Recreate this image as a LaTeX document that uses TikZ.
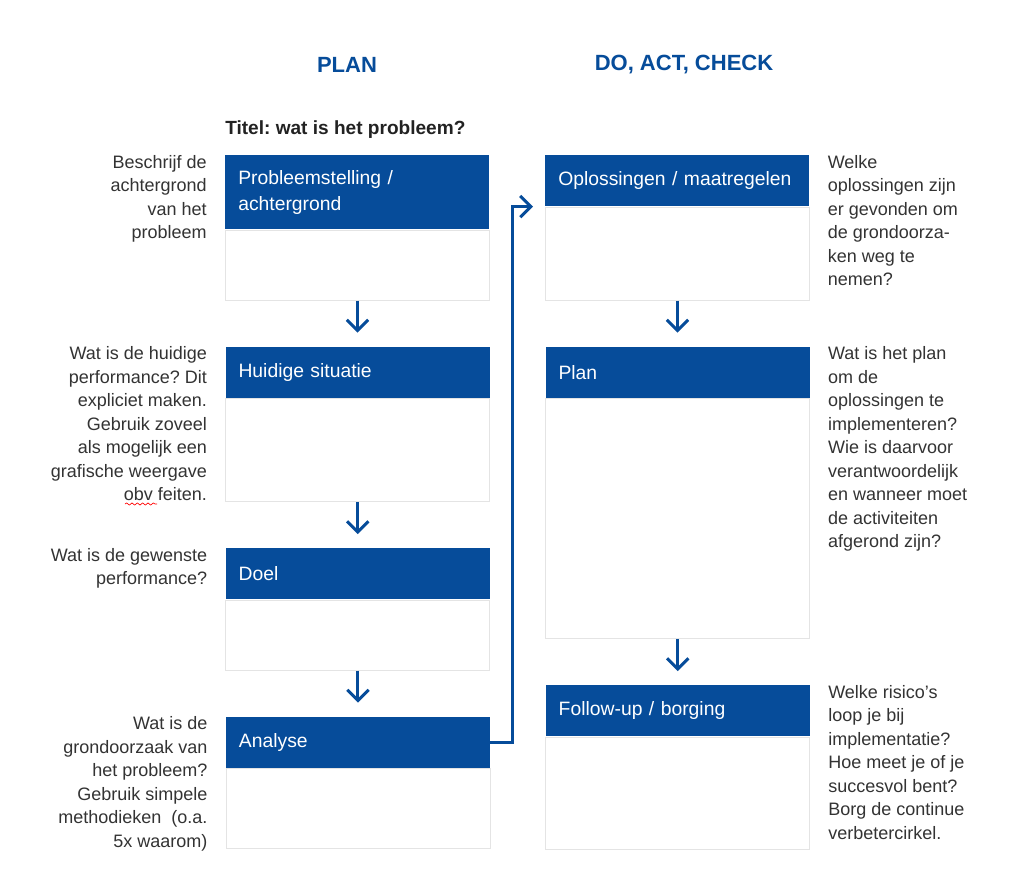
\documentclass[tikz,border=0pt]{standalone}
\usepackage{fontspec}
\setmainfont{Liberation Sans}
\usepackage{tikz}
\usetikzlibrary{arrows.meta, positioning, calc, decorations.pathmorphing}
\definecolor{pdcablue}{RGB}{6,76,154}
\definecolor{pdcatext}{RGB}{51,51,51}
\definecolor{pdcadark}{RGB}{34,34,34}
\definecolor{pdcagrey}{RGB}{228,228,228}
\frenchspacing
\tikzset{
  hdr/.style={rectangle, fill=pdcablue, text=white, anchor=north west,
    minimum width=198pt, minimum height=38.25pt, text width=178.5pt,
    inner xsep=9.75pt, inner ysep=0pt, align=left,
    font=\fontsize{14.5}{19.5}\selectfont},
  bodybox/.style={rectangle, draw=pdcagrey, fill=white, anchor=north west,
    minimum width=198pt, inner sep=0pt, line width=0.75pt},
  descl/.style={anchor=north east, align=right, inner sep=0pt,
    text=pdcatext, font=\fontsize{13.5}{17.6}\selectfont},
  descr/.style={anchor=north west, align=left, inner sep=0pt,
    text=pdcatext, font=\fontsize{13.5}{17.6}\selectfont},
  colhead/.style={text=pdcablue, font=\bfseries\fontsize{16.5}{20}\selectfont},
  flow/.style={-{Straight Barb[length=8pt, width=16pt]}, line width=2.25pt,
    color=pdcablue}
}

\begin{document}
\begin{tikzpicture}[x=0.75pt, y=-0.75pt]
  \useasboundingbox[fill=white] (0,0) rectangle (1024,891);

  % column titles
  \node[colhead] (plan-t) at (347,65) {PLAN};
  \node[colhead] (dac-t) at (684,65) {DO, ACT, CHECK};

  % PLAN column
  \node[hdr, minimum height=55.5pt] (probl) at (225,155) {Probleemstelling /\\achtergrond};
  \node[bodybox, minimum height=52.5pt] (probl-b) at (probl.south west) {};
  \node[hdr, below=34.5pt of probl-b] (huid) {Huidige situatie};
  \node[bodybox, minimum height=77.25pt] (huid-b) at (huid.south west) {};
  \node[hdr, below=34.5pt of huid-b] (doel) {Doel};
  \node[bodybox, minimum height=52.5pt] (doel-b) at (doel.south west) {};
  \node[hdr, below=34.5pt of doel-b] (anal) {Analyse};
  \node[bodybox, minimum height=60pt] (anal-b) at (anal.south west) {};

  \node[anchor=base west, text=pdcadark, font=\bfseries\fontsize{14.3}{18}\selectfont,
    inner sep=0pt] (titel) at ([yshift=15pt]probl.north west) {Titel: wat is het probleem?};

  % DO, ACT, CHECK column
  \node[hdr] (oplos) at (545,155) {Oplossingen / maatregelen};
  \node[bodybox, minimum height=69.75pt] (oplos-b) at (oplos.south west) {};
  \node[hdr, below=34.5pt of oplos-b] (plan) {Plan};
  \node[bodybox, minimum height=180pt] (plan-b) at (plan.south west) {};
  \node[hdr, below=34.5pt of plan-b] (follow) {Follow-up / borging};
  \node[bodybox, minimum height=84pt] (follow-b) at (follow.south west) {};

  % explanations
  \node[descl] (probl-d) at ([xshift=-13.5pt]probl.north west)
    {Beschrijf de\\achtergrond\\van het\\probleem};
  \node[descl] (huid-d) at ([xshift=-13.5pt]huid.north west)
    {Wat is de huidige\\performance? Dit\\expliciet maken.\\Gebruik zoveel\\als mogelijk een\\grafische weergave\\obv feiten.};
  \node[descl] (doel-d) at ([xshift=-13.5pt]doel.north west)
    {Wat is de gewenste\\performance?};
  \node[descl] (anal-d) at ([xshift=-13.5pt]anal.north west)
    {Wat is de\\grondoorzaak van\\het probleem?\\Gebruik simpele\\methodieken~~(o.a.\\5x waarom)};
  \node[descr] (oplos-d) at ([xshift=13.5pt]oplos.north east)
    {Welke\\oplossingen zijn\\er gevonden om\\de grondoorza-\\ken weg te\\nemen?};
  \node[descr] (plan-d) at ([xshift=13.5pt]plan.north east)
    {Wat is het plan\\om de\\oplossingen te\\implementeren?\\Wie is daarvoor\\verantwoordelijk\\en wanneer moet\\de activiteiten\\afgerond zijn?};
  \node[descr] (follow-d) at ([xshift=13.5pt]follow.north east)
    {Welke risico's\\loop je bij\\implementatie?\\Hoe meet je of je\\succesvol bent?\\Borg de continue\\verbetercirkel.};

  % spelling mark under obv
  \draw[red, line width=0.5pt, decorate,
    decoration={snake, segment length=4pt, amplitude=0.8pt}] (125,504) -- (157,504);

  % arrows
  \draw[flow, shorten >=10.5pt] (probl-b) -- (huid);
  \draw[flow, shorten >=10.5pt] (huid-b) -- (doel);
  \draw[flow, shorten >=10.5pt] (doel-b) -- (anal);
  \draw[flow, shorten >=10.5pt] (oplos-b) -- (plan);
  \draw[flow, shorten >=10.5pt] (plan-b) -- (follow);
  \draw[flow] (anal.east) -- ++(22,0) |- ([xshift=-9pt]oplos.south west);
\end{tikzpicture}
\end{document}
